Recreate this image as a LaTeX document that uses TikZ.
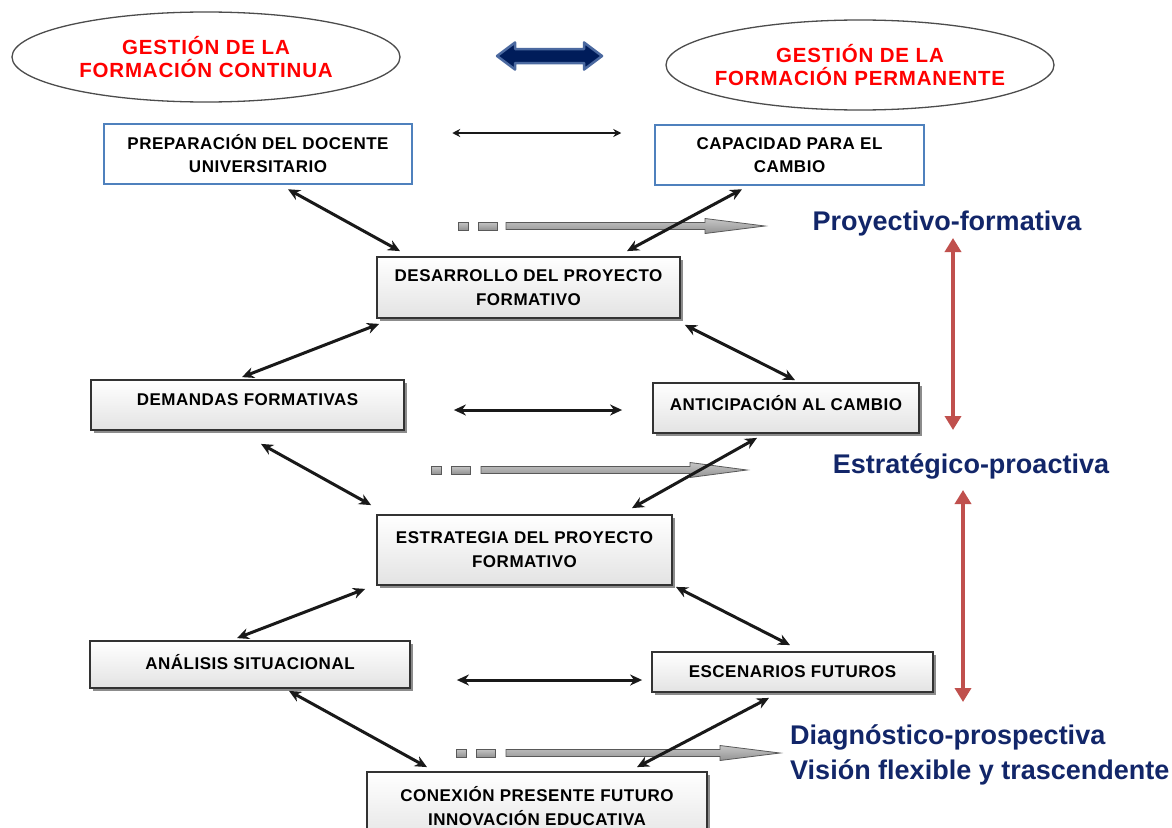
\documentclass[tikz,border=0pt]{standalone}
\usepackage{fontspec}
\setmainfont{Liberation Sans}
\newfontfamily\boxfont{Liberation Sans}[LetterSpace=3]
\newfontfamily\ellfont{Liberation Sans}[LetterSpace=4]
\usetikzlibrary{arrows.meta,shapes.geometric,calc,shadows}
\definecolor{navytext}{RGB}{18,38,105}
\definecolor{redtext}{RGB}{255,0,0}
\definecolor{boxblue}{RGB}{79,129,189}
\definecolor{redarrow}{RGB}{192,80,77}
\definecolor{darknavy}{RGB}{0,28,90}
\definecolor{midblue}{RGB}{75,105,160}
\tikzset{
  ell/.style={ellipse, draw=black!70, line width=1.3pt, fill=white, minimum width=388pt,
    minimum height=90pt, inner xsep=-60pt, inner ysep=0pt, text=redtext, align=center,
    font=\ellfont\bfseries\fontsize{20.5pt}{23pt}\selectfont},
  bluebox/.style={draw=boxblue, line width=2.5pt, fill=white, align=center, inner sep=0pt,
    font=\boxfont\bfseries\fontsize{17pt}{23pt}\selectfont},
  graybox/.style={draw=black!80, line width=1.8pt, top color=white, bottom color=gray!22,
    align=center, inner sep=0pt,
    drop shadow={shadow xshift=2.5pt, shadow yshift=-2.5pt, fill=black!45, opacity=1},
    font=\boxfont\bfseries\fontsize{17pt}{24pt}\selectfont},
  conn/.style={draw=black!90, line width=3pt, {Stealth[length=12pt,width=11pt]}-{Stealth[length=12pt,width=11pt]}},
  thinconn/.style={draw=black!90, line width=1.6pt, {Stealth[length=8pt,width=8pt]}-{Stealth[length=8pt,width=8pt]}},
  redarr/.style={draw=redarrow, line width=3.5pt, {Triangle[length=14pt,width=16pt]}-{Triangle[length=14pt,width=16pt]}},
  metal/.style={draw=black!65, line width=0.8pt, top color=gray!45, middle color=white, bottom color=gray!85},
  navylab/.style={text=navytext, inner sep=0pt, font=\bfseries\fontsize{27pt}{35pt}\selectfont}
}
\newcommand{\metalarrow}[5]{%
  \path[metal] (#2,#1-4) rectangle ++(10,8);
  \path[metal] (#2+20,#1-4) rectangle ++(19,8);
  \path[metal] (#3,#1-3.5) -- (#4,#1-3.5) -- (#4,#1-7.5) -- (#5,#1) -- (#4,#1+7.5) -- (#4,#1+3.5) -- (#3,#1+3.5) -- cycle;
}
\begin{document}
\begin{tikzpicture}[x=1pt,y=-1pt]
\useasboundingbox (0,0) rectangle (1172,827);
\clip (0,0) rectangle (1172,827);
\fill[white] (0,0) rectangle (1172,827);

% ellipses
\node[ell] (e1) at (206,57) {GESTIÓN DE LA\\FORMACIÓN CONTINUA};
\node[ell] (e2) at (860,65) {GESTIÓN DE LA\\FORMACIÓN PERMANENTE};

% big blue double arrow
\path[fill=darknavy, draw=midblue, line width=2.5pt, line join=round]
  (497,56) -- (515,42.5) -- (515,49) -- (584,49) -- (584,42.5) -- (602,56)
  -- (584,69.5) -- (584,63) -- (515,63) -- (515,69.5) -- cycle;

% boxes
\node[bluebox, minimum width=308pt, minimum height=60pt] (prep) at (258,154) {PREPARACIÓN DEL DOCENTE\\UNIVERSITARIO};
\node[bluebox, minimum width=269pt, minimum height=60pt] (capa) at (789.5,155) {CAPACIDAD PARA EL\\CAMBIO};
\node[graybox, minimum width=303pt, minimum height=61pt] (desa) at (528.5,287.5) {DESARROLLO DEL PROYECTO\\FORMATIVO};
\node[graybox, minimum width=313pt, minimum height=50pt, text depth=10pt] (dema) at (247.5,405) {DEMANDAS FORMATIVAS};
\node[graybox, minimum width=266pt, minimum height=50pt, text depth=10pt] (anti) at (786,408) {ANTICIPACIÓN AL CAMBIO};
\node[graybox, minimum width=295pt, minimum height=70pt] (estr) at (524.5,550) {ESTRATEGIA DEL PROYECTO\\FORMATIVO};
\node[graybox, minimum width=320pt, minimum height=47pt, text depth=6pt] (anal) at (250,664.5) {ANÁLISIS SITUACIONAL};
\node[graybox, minimum width=281pt, minimum height=40pt] (esce) at (792.5,672) {ESCENARIOS FUTUROS};
\node[graybox, minimum width=340pt, minimum height=74pt, text depth=6pt] (cone) at (537,809) {CONEXIÓN PRESENTE FUTURO\\INNOVACIÓN EDUCATIVA};

% metallic dashed arrows
\metalarrow{226}{458}{506}{705}{765}
\metalarrow{470}{431}{481}{690}{747}
\metalarrow{753}{456}{506}{720}{780}

% labels
\node[navylab] (lab1) at (947,224) {Proyectivo-formativa};
\node[navylab] (lab2) at (971,466) {Estratégico-proactiva};
\node[navylab, anchor=west, align=left] (lab3) at (790,754.5) {Diagnóstico-prospectiva\\Visión flexible y trascendente};

% red arrows
\coordinate (r1a) at (953,238);
\coordinate (r1b) at (953,430);
\coordinate (r2a) at (963,490);
\coordinate (r2b) at (963,702);
\draw[redarr] (r1a) -- (r1b);
\draw[redarr] (r2a) -- (r2b);

% horizontal connectors
\draw[thinconn] ($(prep.east)+(39,-21)$) -- ($(capa.west)+(-32.5,-22)$);
\draw[conn] ($(dema.east)+(49,5)$) -- ($(anti.west)+(-30,2)$);
\draw[conn] ($(anal.east)+(46,15.5)$) -- ($(esce.west)+(-9,8)$);

% diagonal connectors
\draw[conn] ($(prep.south)+(30,4)$) -- ($(desa.north)+(-128.5,-5)$);
\draw[conn] ($(capa.south)+(-47.5,3)$) -- ($(desa.north)+(98.5,-5)$);
\draw[conn] ($(desa.south west)+(3,5)$) -- ($(dema.north)+(-5.5,-2)$);
\draw[conn] ($(desa.south east)+(4,6)$) -- ($(anti.north)+(9,-2)$);
\draw[conn] ($(dema.south)+(13.5,13)$) -- ($(estr.north west)+(-5,-9)$);
\draw[conn] ($(anti.south)+(-29,4)$) -- ($(estr.north)+(107.5,-6)$);
\draw[conn] ($(estr.south west)+(-11,3)$) -- ($(anal.north)+(-13,-2)$);
\draw[conn] ($(estr.south east)+(3,1)$) -- ($(esce.north)+(-2.5,-6)$);
\draw[conn] ($(anal.south)+(39,2)$) -- ($(cone.north)+(-110,-4)$);
\draw[conn] ($(esce.south)+(-23.5,5)$) -- ($(cone.north)+(100,-4)$);
\end{tikzpicture}
\end{document}
